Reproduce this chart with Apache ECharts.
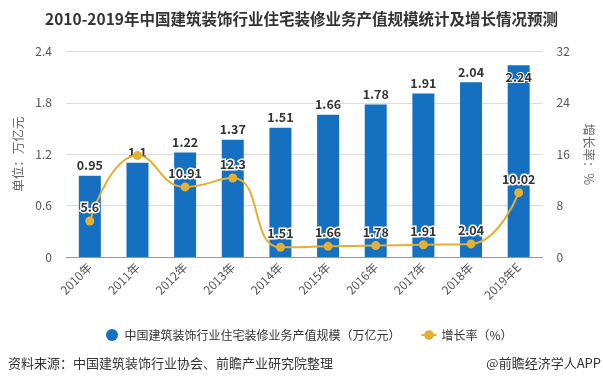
<!DOCTYPE html>
<html>
<head>
<meta charset="utf-8">
<script src="https://cdn.jsdelivr.net/npm/echarts@6/dist/echarts.min.js"></script>
<style>
html,body{margin:0;padding:0;background:#fff;}
#c{width:603px;height:385px;}
</style>
</head>
<body>
<div id="c"></div>
<script>
var categories = ['2010年','2011年','2012年','2013年','2014年','2015年','2016年','2017年','2018年','2019年E'];
var scaleValues = [0.95, 1.1, 1.22, 1.37, 1.51, 1.66, 1.78, 1.91, 2.04, 2.24];
var growthValues = [5.6, 15.8, 10.91, 12.3, 1.51, 1.66, 1.78, 1.91, 2.04, 10.02];
var growthLabels = ['5.6', '', '10.91', '12.3', '1.51', '1.66', '1.78', '1.91', '2.04', '10.02'];
var leftTicks = [0, 0.6, 1.2, 1.8, 2.4];
var rightTicks = [0, 8, 16, 24, 32];

var FONT = '"Noto Sans CJK SC","Noto Sans",sans-serif';
var chart = echarts.init(document.getElementById('c'), null, {renderer:'canvas'});

var barData = scaleValues.map(function(v, i){
  var d = {value: v};
  if (i === scaleValues.length - 1) {
    d.label = {position: 'insideTop', distance: 6};
  }
  return d;
});

chart.setOption({
  animation: false,
  textStyle: {fontFamily: FONT},
  title: {
    text: '2010-2019年中国建筑装饰行业住宅装修业务产值规模统计及增长情况预测',
    left: 'center', top: 6,
    textStyle: {fontSize: 15.5, fontWeight: 'bold', color: '#333', fontFamily: FONT}
  },
  legend: {
    top: 324, left: 101,
    itemGap: 20, itemWidth: 15, itemHeight: 12,
    textStyle: {fontSize: 12, color: '#333', fontFamily: FONT},
    data: [
      {name: '中国建筑装饰行业住宅装修业务产值规模（万亿元）', icon: 'circle'},
      {name: '增长率（%）'}
    ]
  },
  grid: {left: 66, right: 58, top: 51.5, bottom: 128},
  xAxis: {
    type: 'category',
    data: categories,
    axisLine: {lineStyle: {color: '#999'}},
    axisTick: {alignWithLabel: true, length: 5, lineStyle: {color: '#999'}},
    axisLabel: {rotate: 45, fontSize: 12, color: '#555', margin: 8, fontFamily: FONT}
  },
  yAxis: [
    {
      type: 'value', min: 0, max: 2.4, interval: 0.6,
      name: '单位：万亿元', nameLocation: 'middle', nameGap: 40, nameRotate: 90,
      nameTextStyle: {fontSize: 12.5, color: '#666', fontFamily: FONT},
      axisLine: {show: false}, axisTick: {show: false},
      axisLabel: {fontSize: 12, color: '#555', margin: 14,
        formatter: function(v){ return leftTicks.indexOf(+v.toFixed(1)) >= 0 ? (v === 0 ? '0' : v.toFixed(1)) : ''; }},
      splitLine: {lineStyle: {color: '#ddd'}}
    },
    {
      type: 'value', min: 0, max: 32, interval: 8,
      name: '增长率：%', nameLocation: 'middle', nameGap: 40, nameRotate: -90,
      nameTextStyle: {fontSize: 12.5, color: '#666', fontFamily: FONT},
      axisLine: {show: false}, axisTick: {show: false},
      axisLabel: {fontSize: 12, color: '#555', margin: 14,
        formatter: function(v){ return rightTicks.indexOf(v) >= 0 ? String(v) : ''; }},
      splitLine: {show: false}
    }
  ],
  series: [
    {
      name: '中国建筑装饰行业住宅装修业务产值规模（万亿元）',
      type: 'bar', yAxisIndex: 0,
      barWidth: 22,
      itemStyle: {color: '#1570C2'},
      label: {show: true, position: 'top', distance: 4, fontSize: 12.5, fontWeight: 'bold',
        color: '#333', textBorderColor: '#fff', textBorderWidth: 2, fontFamily: FONT},
      data: barData
    },
    {
      name: '增长率（%）',
      type: 'line', yAxisIndex: 1,
      smooth: true,
      symbol: 'circle', symbolSize: 9,
      lineStyle: {color: '#E3AF35', width: 2},
      itemStyle: {color: '#E3AF35'},
      label: {show: true, position: 'top', distance: 3, fontSize: 12.5, fontWeight: 'bold',
        color: '#333', textBorderColor: '#fff', textBorderWidth: 3, fontFamily: FONT,
        formatter: function(p){ return growthLabels[p.dataIndex]; }},
      data: growthValues
    }
  ],
  graphic: [
    {type: 'text', left: 8, top: 357,
      style: {text: '资料来源：中国建筑装饰行业协会、前瞻产业研究院整理', fontSize: 13, fill: '#333', fontFamily: FONT}},
    {type: 'text', right: 2, top: 357,
      style: {text: '@前瞻经济学人APP', fontSize: 13, fill: '#333', fontFamily: FONT}}
  ]
});
</script>
</body>
</html>
